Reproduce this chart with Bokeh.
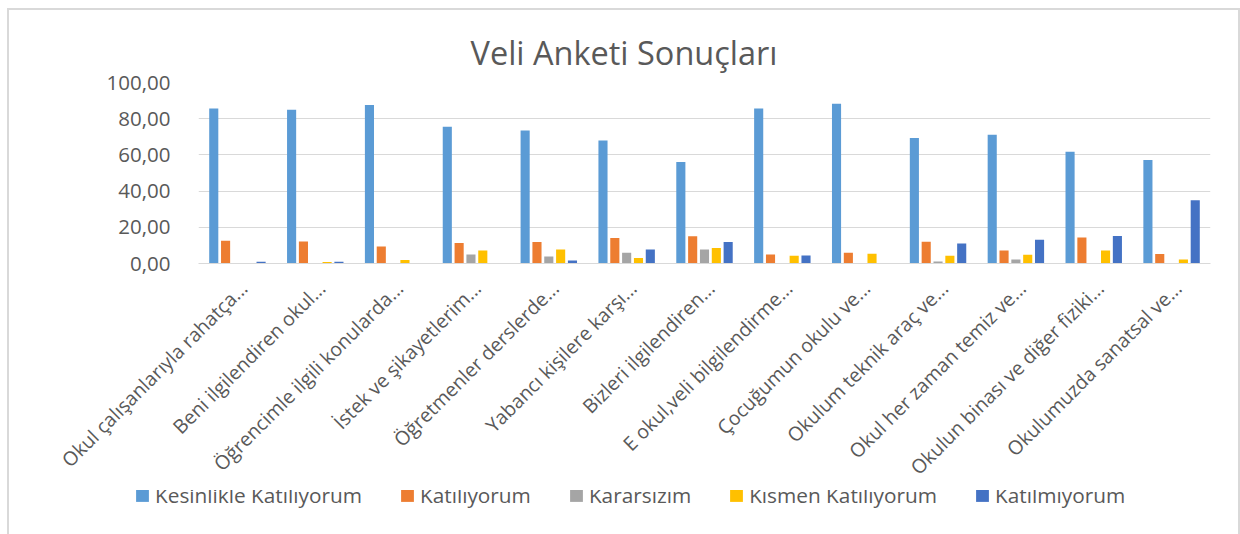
from bokeh.plotting import figure
from bokeh.layouts import column
from bokeh.models import (Legend, LegendItem, CustomJSTickFormatter, ColumnDataSource,
                          Range1d, FixedTicker)
from bokeh.embed import file_html
from bokeh.resources import INLINE
import math

categories = [
    "Okul çalışanlarıyla rahatça...",
    "Beni ilgilendiren okul...",
    "Öğrencimle ilgili konularda...",
    "İstek ve şikayetlerim...",
    "Öğretmenler derslerde...",
    "Yabancı kişilere karşı...",
    "Bizleri ilgilendiren...",
    "E okul,veli bilgilendirme...",
    "Çocuğumun okulu ve...",
    "Okulum teknik araç ve...",
    "Okul her zaman temiz ve...",
    "Okulun binası ve diğer fiziki...",
    "Okulumuzda sanatsal ve...",
]

series_names = ["Kesinlikle Katılıyorum", "Katılıyorum", "Kararsızım", "Kısmen Katılıyorum", "Katılmıyorum"]

kesinlikle = [85.7, 85.0, 87.6, 75.6, 73.5, 68.0, 56.1, 85.6, 88.3, 69.4, 71.1, 61.7, 57.2]
katiliyorum = [12.6, 12.2, 9.4, 11.3, 11.9, 14.1, 15.0, 5.0, 5.9, 12.0, 7.2, 14.4, 5.2]
kararsizim = [0.0, 0.0, 0.0, 5.0, 3.9, 5.9, 7.8, 0.0, 0.0, 1.1, 2.2, 0.0, 0.0]
kismen = [0.0, 0.8, 2.0, 7.2, 7.8, 3.0, 8.5, 4.3, 5.4, 4.3, 4.8, 7.2, 2.2]
katilmiyorum = [1.0, 1.0, 0.0, 0.0, 1.7, 7.8, 11.9, 4.4, 0.0, 11.1, 13.1, 15.2, 35.0]

y_ticks = [0, 20, 40, 60, 80, 100]

colors = ["#5B9BD5", "#ED7D31", "#A5A5A5", "#FFC000", "#4472C4"]
offsets = [-0.304, -0.152, 0.0, 0.152, 0.304]

FONT = "Open Sans"
TXT = "#595959"
GRID = "#d9d9d9"
BORDER = "2px solid #d9d9d9"

n = len(categories)
series = [kesinlikle, katiliyorum, kararsizim, kismen, katilmiyorum]
sources = [ColumnDataSource(dict(x=[i + 0.5 + off for i in range(n)], top=vals))
           for vals, off in zip(series, offsets)]

# ---- main chart ----
p = figure(x_range=Range1d(0, n), y_range=Range1d(0, 100),
           width=1233, height=482, output_backend="svg", toolbar_location=None,
           min_border_left=189, min_border_right=32, min_border_top=72, min_border_bottom=228)
p.styles = {"margin-left": "7px", "margin-top": "8px",
            "border-top": BORDER, "border-left": BORDER, "border-right": BORDER,
            "box-sizing": "border-box"}
p.outline_line_color = None

for src, col in zip(sources, colors):
    p.vbar(x="x", top="top", width=0.117, bottom=0, source=src,
           fill_color=col, line_color=None)

p.ygrid.grid_line_color = GRID
p.ygrid.grid_line_width = 1.2
p.xgrid.grid_line_color = None
p.yaxis.ticker = y_ticks
p.yaxis.formatter = CustomJSTickFormatter(code="return tick.toFixed(2).replace('.', ',');")
p.yaxis.axis_line_color = None
p.yaxis.major_tick_line_color = None
p.yaxis.minor_tick_line_color = None
p.yaxis.major_label_standoff = 22
p.yaxis.major_label_text_font = FONT
p.yaxis.major_label_text_font_size = "20.5px"
p.yaxis.major_label_text_color = TXT

# category labels: one unit per category, anchored just right of each group centre
shift = -0.08
xa = p.xaxis[0]
xa.ticker = FixedTicker(ticks=[i + 0.5 - shift for i in range(n)], minor_ticks=[])
xa.formatter = CustomJSTickFormatter(args=dict(labels=categories),
                                     code="return labels[Math.floor(tick)];")
xa.axis_line_color = GRID
xa.axis_line_width = 1.2
xa.major_tick_line_color = None
xa.minor_tick_line_color = None
xa.major_label_orientation = math.pi / 4
xa.major_label_standoff = 15
xa.major_label_text_font = FONT
xa.major_label_text_font_size = "19.5px"
xa.major_label_text_color = TXT

p.title.text = "Veli Anketi Sonuçları"
p.title.align = "left"
p.title.offset = 272
p.title.text_font = FONT
p.title.text_font_size = "32.5px"
p.title.text_font_style = "normal"
p.title.text_color = TXT
p.title.standoff = 16

# ---- legend strip (same series; its view range lies above the bars so only the legend shows) ----
pl = figure(x_range=Range1d(0, n), y_range=Range1d(200, 201), width=1233, height=44,
            output_backend="svg", toolbar_location=None,
            x_axis_location=None, y_axis_location=None, min_border=0)
pl.frame_align = False
pl.styles = {"margin-left": "7px", "border-left": BORDER, "border-right": BORDER,
             "box-sizing": "border-box"}
pl.outline_line_color = None
pl.grid.visible = False
leg_renderers = []
for src, col in zip(sources, colors):
    leg_renderers.append(pl.vbar(x="x", top="top", width=0.117, bottom=0, source=src,
                                 fill_color=col, line_color=None))

legend = Legend(items=[LegendItem(label=nm, renderers=[r]) for nm, r in zip(series_names, leg_renderers)],
                orientation="horizontal", location=(125, 25),
                glyph_width=16, glyph_height=16, label_standoff=5, spacing=37, padding=0, margin=0,
                border_line_color=None, background_fill_alpha=0,
                label_text_font=FONT, label_text_font_size="20.8px", label_text_color=TXT,
                label_height=20)
pl.add_layout(legend, "center")

layout = column(p, pl, spacing=0)
open("out.html", "w").write(file_html(layout, INLINE))
